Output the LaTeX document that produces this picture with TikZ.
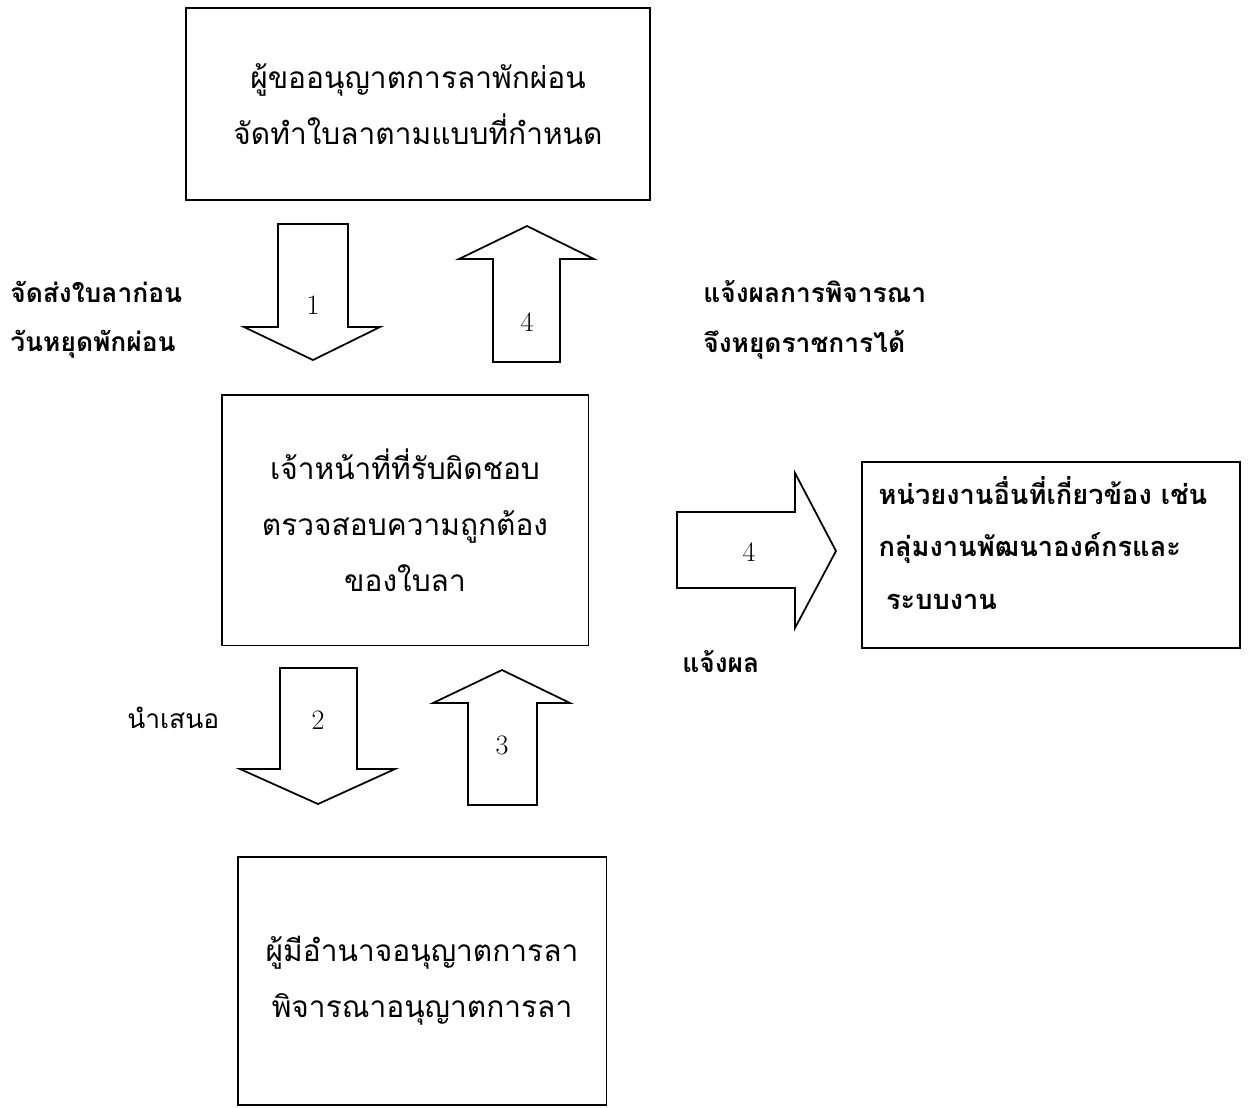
\documentclass[tikz,border=0pt]{standalone}
\usepackage{fontspec}
\newfontfamily\thaifont[Script=Thai]{Loma}

\begin{document}
\begin{tikzpicture}[x=0.02cm,y=-0.02cm,
	box/.style={draw,line width=1.1pt,inner sep=0pt,align=center,
		font=\thaifont\fontsize{17}{32}\selectfont},
	caption/.style={anchor=west,align=left,inner sep=0pt,
		font=\thaifont\bfseries\fontsize{15}{28}\selectfont},
	num/.style={font=\fontsize{16}{16}\selectfont},
	blk/.style={line width=1pt,line join=miter}]
	\useasboundingbox (0,0) rectangle (1249,1107);

	% boxes
	\node[box,minimum width=9.28cm,minimum height=3.84cm] (applicant) at (418,104)
		{ผู้ขออนุญาตการลาพักผ่อน\\จัดทำใบลาตามแบบที่กำหนด};
	\node[box,minimum width=7.34cm,minimum height=5.02cm] (officer) at (405,520)
		{เจ้าหน้าที่ที่รับผิดชอบ\\ตรวจสอบความถูกต้อง\\ของใบลา};
	\node[box,align=left,text width=6.9cm,minimum width=7.56cm,minimum height=3.72cm,
		font=\thaifont\bfseries\fontsize{15.5}{30}\selectfont] (units) at (1051,555)
		{\mbox{หน่วยงานอื่นที่เกี่ยวข้อง เช่น}\\กลุ่มงานพัฒนาองค์กรและ\\\hspace{0.15cm}ระบบงาน\\[-16pt]\mbox{}};
	\node[box,minimum width=7.38cm,minimum height=4.96cm] (approver) at (422,981)
		{ผู้มีอำนาจอนุญาตการลา\\พิจารณาอนุญาตการลา};

	% block arrows
	\draw[blk] (278,224) -- (348,224) -- (348,327) -- (380,327) -- (313,360)
		-- (244,327) -- (278,327) -- cycle;
	\node[num] (step1) at (313,305) {1};
	\draw[blk] (493,362) -- (560,362) -- (560,259) -- (594,259) -- (527,226)
		-- (459,259) -- (493,259) -- cycle;
	\node[num] (step4a) at (527,322) {4};
	\draw[blk] (677,512) -- (795,512) -- (795,473) -- (836,551) -- (795,628)
		-- (795,588) -- (677,588) -- cycle;
	\node[num] (step4b) at (749,552) {4};
	\draw[blk] (280,668) -- (357,668) -- (357,769) -- (395,769) -- (318,804)
		-- (240,769) -- (280,769) -- cycle;
	\node[num] (step2) at (318,720) {2};
	\draw[blk] (468,805) -- (537,805) -- (537,703) -- (570,703) -- (502,670)
		-- (433,703) -- (468,703) -- cycle;
	\node[num] (step3) at (502,745) {3};

	% captions
	\node[caption] (send) at (10,320) {จัดส่งใบลาก่อน\\วันหยุดพักผ่อน};
	\node[caption] (result) at (703,320) {แจ้งผลการพิจารณา\\จึงหยุดราชการได้};
	\node[caption] (notify) at (682,662) {แจ้งผล};
	\node[caption,font=\thaifont\fontsize{15}{28}\selectfont] (propose) at (127,718) {นำเสนอ};
\end{tikzpicture}
\end{document}
